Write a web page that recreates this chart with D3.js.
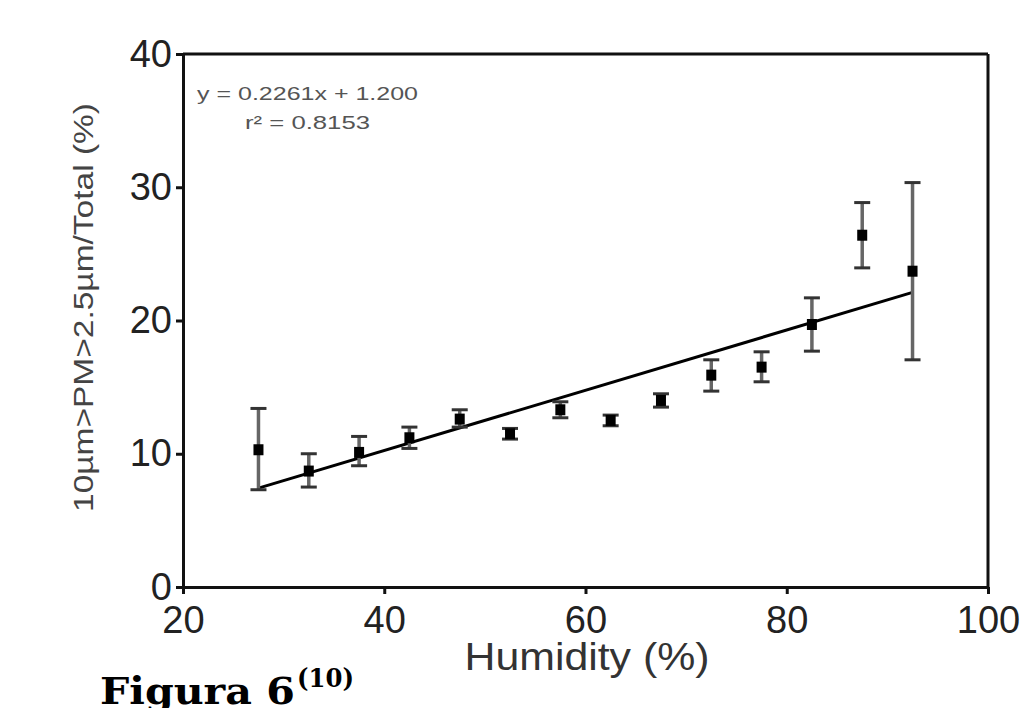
<!DOCTYPE html>
<html>
<head>
<meta charset="utf-8">
<script src="https://cdn.jsdelivr.net/npm/d3@7"></script>
<style>
  html, body { margin: 0; padding: 0; background: #fff; }
  svg { display: block; }
</style>
</head>
<body>
<svg id="chart" width="1024" height="708"></svg>
<script>
// ---- data ----
const humidity = [27.5, 32.5, 37.5, 42.5, 47.5, 52.5, 57.5, 62.5, 67.5, 72.5, 77.5, 82.5, 87.5, 92.5];
const ratio    = [10.3, 8.7, 10.1, 11.2, 12.6, 11.5, 13.3, 12.5, 14.0, 15.9, 16.5, 19.7, 26.4, 23.7];
const errUp    = [3.1, 1.3, 1.2, 0.8, 0.7, 0.4, 0.6, 0.4, 0.5, 1.15, 1.15, 2.0, 2.45, 6.65];
const errDown  = [3.0, 1.2, 1.0, 0.8, 0.6, 0.4, 0.6, 0.4, 0.5, 1.2, 1.1, 2.0, 2.45, 6.65];
const fitX     = [27.5, 92.5];
const fitY     = [7.42, 22.11];
const xTicks   = [20, 40, 60, 80, 100];
const yTicks   = [0, 10, 20, 30, 40];
const xLabel   = "Humidity (%)";
const yLabel   = "10µm>PM>2.5µm/Total (%)";
const eqText   = "y = 0.2261x + 1.200";
const r2Text   = "r² = 0.8153";
const figText  = "Figura 6";
const figSup   = "(10)";

// ---- layout ----
const svg = d3.select("#chart");
const x = d3.scaleLinear().domain([20, 100]).range([183, 988]);
const y = d3.scaleLinear().domain([0, 40]).range([587, 54]);
const font = "'Liberation Sans', Arial, Helvetica, sans-serif";

// frame top/right
svg.append("line")
  .attr("x1", x.range()[0]).attr("x2", x.range()[1])
  .attr("y1", y.range()[1]).attr("y2", y.range()[1])
  .attr("stroke", "#111").attr("stroke-width", 3);
svg.append("line")
  .attr("x1", x.range()[1]).attr("x2", x.range()[1])
  .attr("y1", y.range()[1]).attr("y2", y.range()[0])
  .attr("stroke", "#111").attr("stroke-width", 3);

// x axis
const gx = svg.append("g").attr("transform", `translate(0,${y.range()[0]})`)
  .call(d3.axisBottom(x).tickValues(xTicks).tickSize(7).tickSizeOuter(0).tickPadding(12).tickFormat(d3.format("d")));
gx.select(".domain").attr("stroke", "#111").attr("stroke-width", 3);
gx.selectAll(".tick line").attr("stroke", "#111").attr("stroke-width", 3);
gx.selectAll(".tick text").attr("font-family", font).attr("font-size", 38).attr("fill", "#222");

// y axis
const gy = svg.append("g").attr("transform", `translate(${x.range()[0]},0)`)
  .call(d3.axisLeft(y).tickValues(yTicks).tickSize(7).tickSizeOuter(0).tickPadding(4).tickFormat(d3.format("d")));
gy.select(".domain").attr("stroke", "#111").attr("stroke-width", 3);
gy.selectAll(".tick line").attr("stroke", "#111").attr("stroke-width", 3);
gy.selectAll(".tick text").attr("font-family", font).attr("font-size", 38).attr("fill", "#222");

// regression line
svg.append("line")
  .attr("x1", x(fitX[0])).attr("y1", y(fitY[0]))
  .attr("x2", x(fitX[1])).attr("y2", y(fitY[1]))
  .attr("stroke", "#000").attr("stroke-width", 3);

// error bars
const pts = humidity.map((h, i) => ({h, v: ratio[i], up: ratio[i] + errUp[i], dn: ratio[i] - errDown[i]}));
const eb = svg.append("g");
eb.selectAll("line.v").data(pts).enter().append("line")
  .attr("x1", d => x(d.h)).attr("x2", d => x(d.h))
  .attr("y1", d => y(d.up)).attr("y2", d => y(d.dn))
  .attr("stroke", "#666").attr("stroke-width", 3.5);
eb.selectAll("line.cu").data(pts).enter().append("line")
  .attr("x1", d => x(d.h) - 8).attr("x2", d => x(d.h) + 8)
  .attr("y1", d => y(d.up)).attr("y2", d => y(d.up))
  .attr("stroke", "#333").attr("stroke-width", 3);
eb.selectAll("line.cd").data(pts).enter().append("line")
  .attr("x1", d => x(d.h) - 8).attr("x2", d => x(d.h) + 8)
  .attr("y1", d => y(d.dn)).attr("y2", d => y(d.dn))
  .attr("stroke", "#333").attr("stroke-width", 3);

// markers
svg.append("g").selectAll("rect").data(pts).enter().append("rect")
  .attr("x", d => x(d.h) - 5).attr("y", d => y(d.v) - 5.5)
  .attr("width", 10).attr("height", 11).attr("fill", "#000");

// equation
svg.append("text").attr("x", 197).attr("y", 100)
  .attr("font-family", font).attr("font-size", 19).attr("fill", "#555")
  .attr("textLength", 221).attr("lengthAdjust", "spacingAndGlyphs").text(eqText);
svg.append("text").attr("x", 245).attr("y", 129)
  .attr("font-family", font).attr("font-size", 19).attr("fill", "#555")
  .attr("textLength", 125).attr("lengthAdjust", "spacingAndGlyphs").text(r2Text);

// axis labels
svg.append("text").attr("x", 587).attr("y", 670).attr("text-anchor", "middle")
  .attr("font-family", font).attr("font-size", 38).attr("fill", "#333")
  .attr("textLength", 245).attr("lengthAdjust", "spacingAndGlyphs").text(xLabel);
svg.append("text").attr("transform", "translate(93,307.5) rotate(-90)").attr("text-anchor", "middle")
  .attr("font-family", font).attr("font-size", 28).attr("fill", "#444")
  .attr("textLength", 409).attr("lengthAdjust", "spacingAndGlyphs").text(yLabel);

// figure caption
svg.append("text").attr("x", 100).attr("y", 704)
  .attr("font-family", "'DejaVu Serif', serif").attr("font-weight", "bold").attr("font-size", 38).attr("fill", "#000")
  .attr("textLength", 195).attr("lengthAdjust", "spacingAndGlyphs").text(figText);
svg.append("text").attr("x", 297).attr("y", 687)
  .attr("font-family", "'DejaVu Serif', serif").attr("font-weight", "bold").attr("font-size", 26).attr("fill", "#000")
  .attr("textLength", 57).attr("lengthAdjust", "spacingAndGlyphs").text(figSup);
</script>
</body>
</html>
